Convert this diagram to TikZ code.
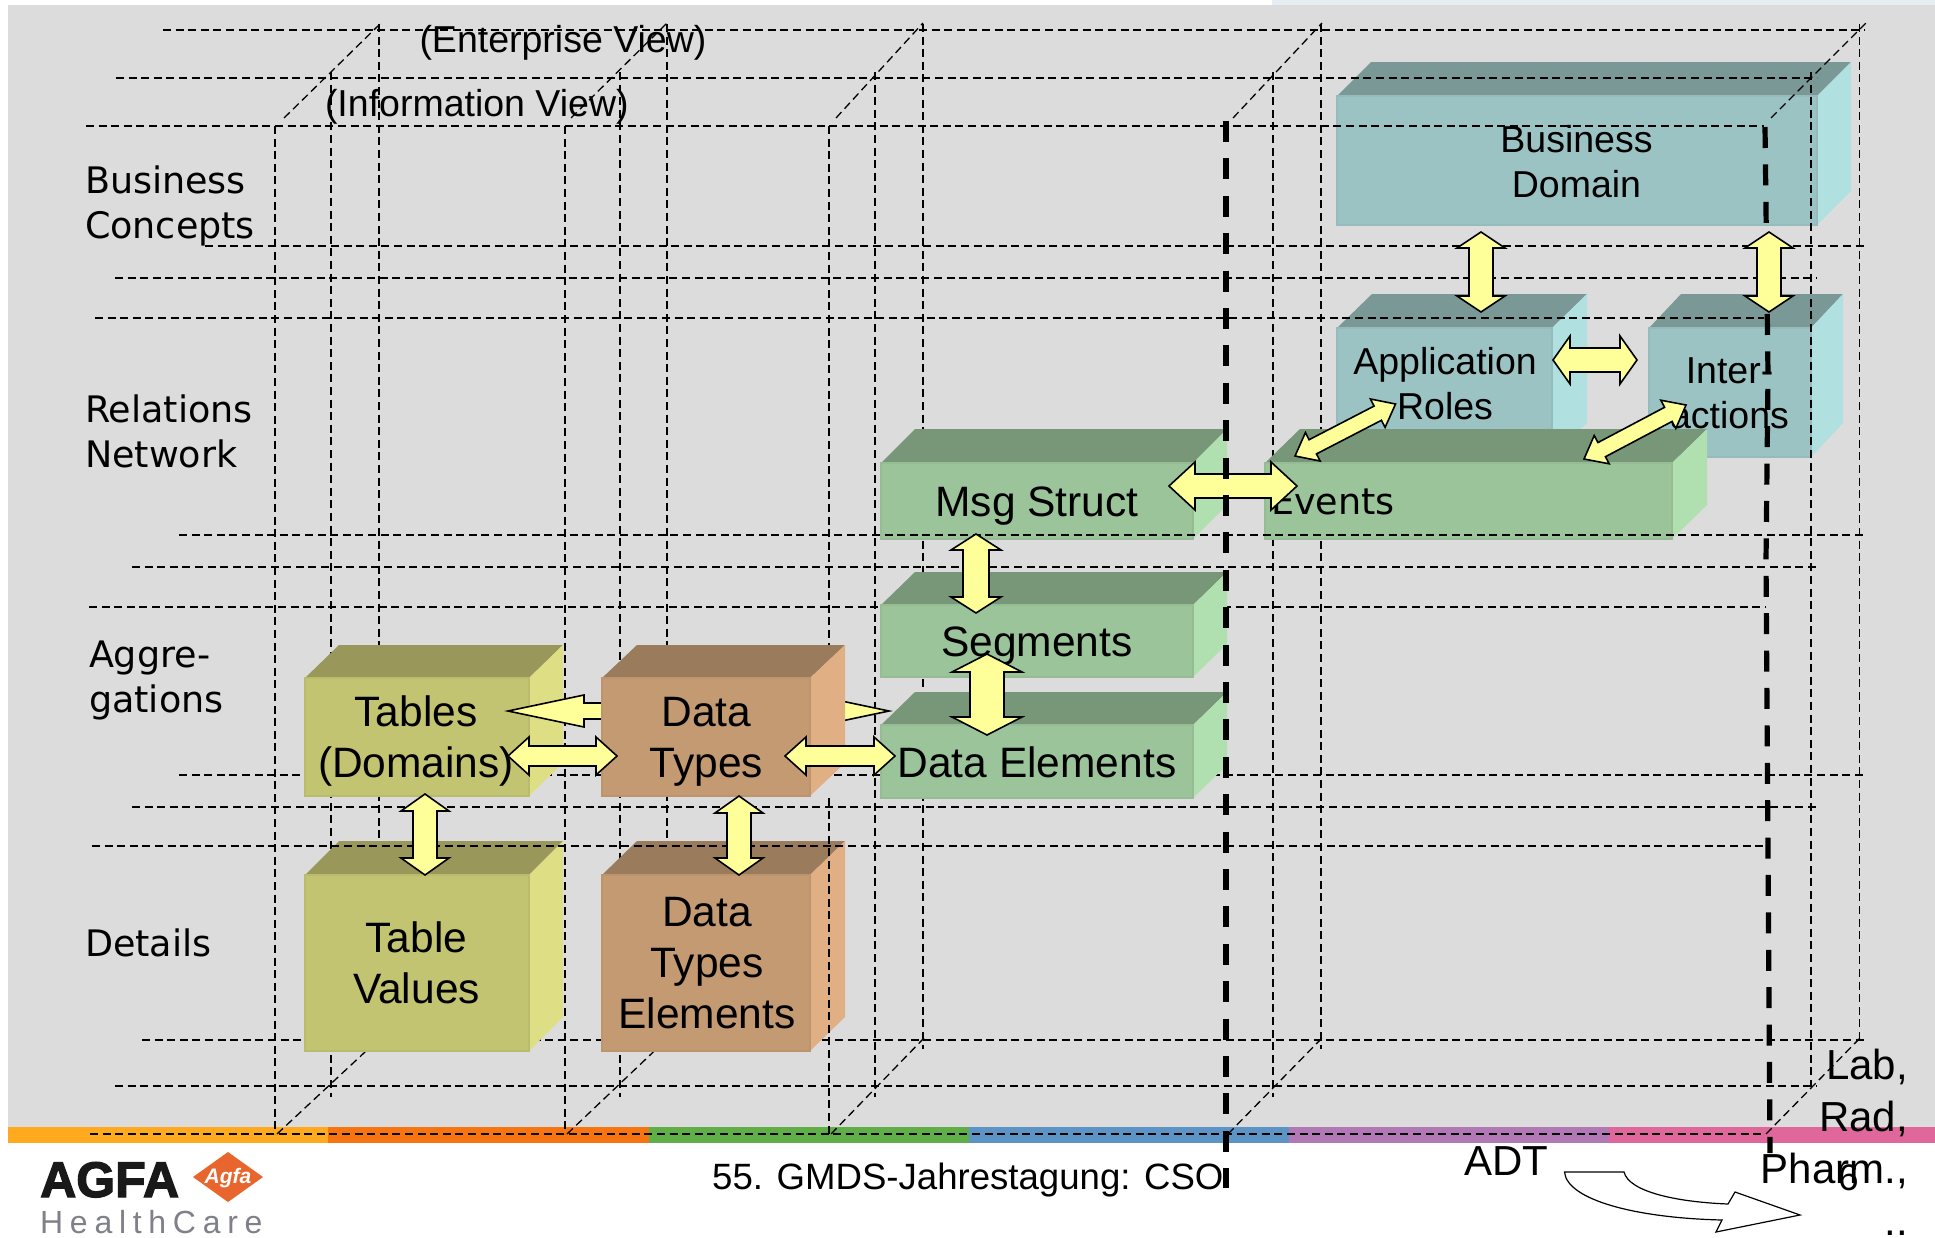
\documentclass[tikz,border=0pt]{standalone}
\usepackage{fontspec}
\setmainfont{Liberation Sans}
\newfontfamily\lblfont{DejaVu Sans}
\newfontfamily\heavyfont[FakeBold=2.5]{Liberation Sans Bold}
\newfontfamily\spacedfont[LetterSpace=21]{Liberation Sans}
\usetikzlibrary{calc}
\definecolor{bggray}{HTML}{DCDCDC}
\definecolor{tealF}{HTML}{9CC3C4}\definecolor{tealT}{HTML}{7A9896}\definecolor{tealS}{HTML}{B0E0E0}
\definecolor{greenF}{HTML}{9CC49A}\definecolor{greenT}{HTML}{789678}\definecolor{greenS}{HTML}{B0E0B0}
\definecolor{oliveF}{HTML}{C2C472}\definecolor{oliveT}{HTML}{99985A}\definecolor{oliveS}{HTML}{DEDF85}
\definecolor{tanF}{HTML}{C49A72}\definecolor{tanT}{HTML}{9A7B5C}\definecolor{tanS}{HTML}{E0B084}
\definecolor{arrowY}{HTML}{FFFF99}
\definecolor{stripc}{HTML}{E6EEF2}
\definecolor{b1}{HTML}{FFA91F}\definecolor{b2}{HTML}{F77410}\definecolor{b3}{HTML}{5FAE47}
\definecolor{b4}{HTML}{5C95C5}\definecolor{b5}{HTML}{B278B5}\definecolor{b6}{HTML}{E0679B}
\definecolor{agfaO}{HTML}{E8662D}
\definecolor{hcg}{HTML}{80808A}
\tikzset{
  thin dashes/.style={draw=black,line width=1.5pt,dash pattern=on 8pt off 4.6pt},
  thick dashes/.style={draw=black,line width=5.2pt,dash pattern=on 21pt off 16.4pt},
  yarrow/.style={draw=black,fill=arrowY,line width=1.6pt,line join=miter},
  txtS/.style={inner sep=0,outer sep=0,align=center,font=\fontsize{37.5}{45}\selectfont},
  txtL/.style={inner sep=0,outer sep=0,align=center,font=\fontsize{42.5}{51}\selectfont},
  lbl/.style={inner sep=0,outer sep=0,align=left,font=\fontsize{36.5}{45}\selectfont\lblfont},
}
\newcommand{\cuboid}[9]{% left top right bottom dx dy face top side
  \fill[#8] (#1,#2) -- ({#1+#5},{#2-#6}) -- ({#3+#5},{#2-#6}) -- (#3,#2) -- cycle;
  \fill[#9] (#3,#2) -- ({#3+#5},{#2-#6}) -- ({#3+#5},{#4-#6}) -- (#3,#4) -- cycle;
  \fill[#7,draw=#7!96!black,line width=1.5pt] (#1,#2) rectangle (#3,#4);
}
\newcommand{\blockarrow}[5]{% a b headlen headhalf shafthalf
  \coordinate (p1) at ($(#1)!#3!(#2)$);
  \coordinate (p2) at ($(#2)!#3!(#1)$);
  \draw[yarrow] (#1) -- ($(p1)!#4!90:(#2)$) -- ($(p1)!#5!90:(#2)$) -- ($(p2)!#5!-90:(#1)$) -- ($(p2)!#4!-90:(#1)$) -- (#2)
   -- ($(p2)!#4!90:(#1)$) -- ($(p2)!#5!90:(#1)$) -- ($(p1)!#5!-90:(#2)$) -- ($(p1)!#4!-90:(#2)$) -- cycle;
}
\begin{document}
\begin{tikzpicture}[x=1pt,y=-1pt]
\useasboundingbox (0,0) rectangle (1935,1237);
\fill[white] (0,0) rectangle (1935,1237);
\fill[bggray] (8,5) rectangle (1935,1127);
\fill[stripc] (1272,0) rectangle (1935,5);
% colour bar
\fill[b1] (8,1127) rectangle (328,1143);
\fill[b2] (328,1127) rectangle (649,1143);
\fill[b3] (649,1127) rectangle (969,1143);
\fill[b4] (969,1127) rectangle (1289,1143);
\fill[b5] (1289,1127) rectangle (1609,1143);
\fill[b6] (1609,1127) rectangle (1935,1143);
% grid under the boxes
\draw[thin dashes] (163,30) -- (1865,30);
\draw[thin dashes] (205,246) -- (1865,246);
\draw[thin dashes] (115,278) -- (1817,278);
\draw[thin dashes] (132,567) -- (1817,567);
\draw[thin dashes] (89,607) -- (1765,607);
\draw[thin dashes] (179,775) -- (1865,775);
\draw[thin dashes] (132,807) -- (1817,807);
\draw[thin dashes] (142,1040) -- (1865,1040);
\draw[thin dashes] (115,1086) -- (1817,1086);
\draw[thin dashes] (90,1134) -- (1765,1134);
\foreach \x in {275,565} \draw[thin dashes] (\x,126) -- (\x,1134);
\draw[thin dashes] (829,126) -- (829,650);
\foreach \x in {331,620,875,1273} \draw[thin dashes] (\x,72) -- (\x,1097);
\foreach \x in {379,667,923,1321} \draw[thin dashes] (\x,24) -- (\x,1049);
\draw[thin dashes] (1859.5,24) -- (1859.5,1038);
\foreach \xa/\xb in {277/380,567/668,831/924,1228/1322,1766/1860} \draw[thin dashes,line width=1.3pt] (\xa,1134) -- (\xb,1038);
% boxes
\cuboid{1337}{328}{1552}{457}{35}{34}{tealF}{tealT}{tealS}
\cuboid{1649}{328}{1811}{457}{32}{34}{tealF}{tealT}{tealS}
\cuboid{1337}{96}{1817}{225}{34}{34}{tealF}{tealT}{tealS}
\cuboid{1265}{463}{1672}{539}{35}{34}{greenF}{greenT}{greenS}
\cuboid{881}{463}{1193}{539}{34}{34}{greenF}{greenT}{greenS}
\cuboid{881}{605}{1193}{677}{34}{33}{greenF}{greenT}{greenS}
\cuboid{881}{725}{1193}{798}{34}{33}{greenF}{greenT}{greenS}
\cuboid{305}{678}{529}{796}{34}{33}{oliveF}{oliveT}{oliveS}
\cuboid{305}{875}{529}{1051}{34}{34}{oliveF}{oliveT}{oliveS}
% arrow that runs behind Data Types
\coordinate (tabtip) at (508,711);
\coordinate (segtip) at (889,711);
\blockarrow{tabtip}{segtip}{76pt}{16pt}{8pt}
\cuboid{602}{678}{810}{796}{35}{33}{tanF}{tanT}{tanS}
\cuboid{602}{875}{810}{1051}{35}{34}{tanF}{tanT}{tanS}
% box texts
\node[txtS,anchor=base] (bd) at (1576.5,197) {Business\\Domain};
\node[txtS,anchor=base] (ar) at (1445,419) {Application\\Roles};
\node[txtS,anchor=base] (ia) at (1729.5,428) {Inter-\\actions};
\node[lbl,anchor=base west] (ev) at (1271,514) {Events};
\node[txtL,anchor=base] (ms) at (1037,516.5) {Msg Struct};
\node[txtL,anchor=base] (sg) at (1037,656.5) {Segments};
\node[txtL,anchor=base] (de) at (1037,777.5) {Data Elements};
\node[txtL,anchor=base] (tb) at (416,777) {Tables\\(Domains)};
\node[txtL,anchor=base] (dt) at (706.5,777) {Data\\Types};
\node[txtL,anchor=base] (tv) at (416.5,1003) {Table\\Values};
\node[txtL,anchor=base] (dte) at (707,1028.5) {Data\\Types\\Elements};
% grid over the boxes
\draw[thin dashes] (116,78) -- (1817,78);
\draw[thin dashes] (86,126) -- (1764,126);
\draw[thin dashes] (95,318) -- (1764,318);
\draw[thin dashes] (179,535) -- (1865,535);
\draw[thin dashes] (92,846) -- (1764,846);
\draw[thin dashes] (829,798) -- (829,1134);
\draw[thin dashes] (1811,72) -- (1811,1087);
\foreach \xa/\xb in {284/381,571/667,836/923,1233/1322,1771/1866} \draw[thin dashes,line width=1.3pt] (\xa,118) -- (\xb,23);
\draw[thick dashes] (1765,127) -- (1768,375) -- (1766,560) -- (1770,1153);
% arrows
\coordinate (bdL) at (1481,232); \coordinate (arT) at (1481,312);
\blockarrow{bdL}{arT}{16pt}{24pt}{12pt}
\coordinate (bdR) at (1769,232); \coordinate (iaT) at (1769,312);
\blockarrow{bdR}{iaT}{16pt}{24pt}{12pt}
\coordinate (arR) at (1553,360); \coordinate (iaL) at (1637,360);
\blockarrow{arR}{iaL}{17pt}{24pt}{12pt}
\coordinate (evA) at (1295,456); \coordinate (arB) at (1395.5,404);
\blockarrow{evA}{arB}{20pt}{16pt}{8pt}
\coordinate (evB) at (1584,459); \coordinate (iaB) at (1686,405);
\blockarrow{evB}{iaB}{20pt}{16pt}{8pt}
\coordinate (msR) at (1169,486); \coordinate (evL) at (1297,486);
\blockarrow{msR}{evL}{26pt}{24pt}{12pt}
\coordinate (msB) at (976,534); \coordinate (sgT) at (976,613);
\blockarrow{msB}{sgT}{16pt}{25pt}{13pt}
\coordinate (sgB) at (987,654); \coordinate (deT) at (987,735);
\blockarrow{sgB}{deT}{18pt}{35pt}{17pt}
\coordinate (tbR) at (508,756); \coordinate (dtL) at (617,756);
\blockarrow{tbR}{dtL}{21pt}{19pt}{10pt}
\coordinate (dtR) at (785,756); \coordinate (deL) at (895,756);
\blockarrow{dtR}{deL}{21pt}{19pt}{10pt}
\coordinate (tbB) at (425,794); \coordinate (tvT) at (425,875);
\blockarrow{tbB}{tvT}{17pt}{24pt}{12pt}
\coordinate (dtB) at (739,796); \coordinate (dteT) at (739,875);
\blockarrow{dtB}{dteT}{17pt}{24pt}{12pt}
\draw[thick dashes] (1226,121) -- (1226,1188);
% row labels
\node[lbl,anchor=base west] (l1) at (85,238) {Business\\Concepts};
\node[lbl,anchor=base west] (l2) at (85,467) {Relations\\Network};
\node[lbl,anchor=base west] (l3) at (89,712) {Aggre-\\gations};
\node[lbl,anchor=base west] (l4) at (85,956) {Details};
\node[txtS,anchor=base west] (v1) at (419.5,52) {(Enterprise View)};
\node[txtS,anchor=base west] (v2) at (325,116) {(Information View)};
% footer
\node[inner sep=0,anchor=base west,font=\fontsize{36.6}{45}\selectfont] (ft) at (712,1189.5) {55. GMDS-Jahrestagung: CSO};
\node[inner sep=0,anchor=base west,font=\fontsize{42}{51}\selectfont] (adt) at (1464,1175) {ADT};
\node[inner sep=0,anchor=base,font=\fontsize{37}{45}\selectfont] (pg) at (1848.5,1190) {6};
\node[inner sep=0,anchor=base east,align=right,font=\fontsize{42}{52}\selectfont] (lab) at (1908,1235.5) {Lab,\\Rad,\\Pharm.,\\..};
\draw[fill=white,draw=black,line width=1.2pt] (1564.5,1172) -- (1624,1172) .. controls (1629,1192) and (1677,1202) .. (1728,1204) -- (1735,1192) -- (1800,1215) -- (1716,1232) -- (1722,1220) .. controls (1636,1218) and (1567,1200) .. (1564.5,1172) -- cycle;
% logo
\node[inner sep=0,anchor=base west,font=\fontsize{50}{50}\heavyfont,text=black!90] (agfa) at (40,1197) {AGFA};
\fill[agfaO] (193,1177) -- (228,1152) -- (263,1177) -- (228,1202) -- cycle;
\node[inner sep=0,font=\fontsize{21}{21}\selectfont\bfseries\itshape,text=white] (ag2) at (228,1178) {Agfa};
\node[inner sep=0,anchor=base west,font=\fontsize{32}{32}\spacedfont,text=hcg] (hc) at (40,1233) {HealthCare};
\end{tikzpicture}
\end{document}
